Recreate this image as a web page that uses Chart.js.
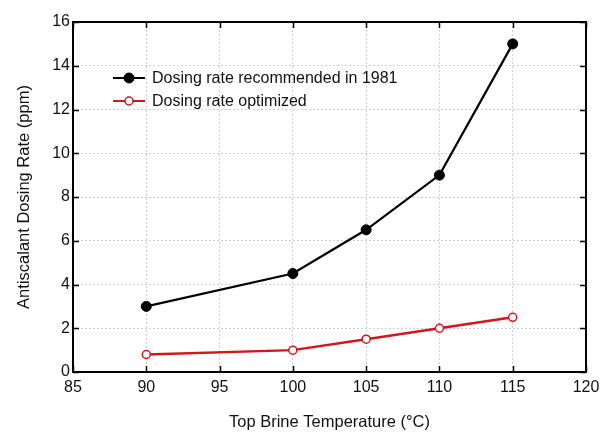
<!DOCTYPE html>
<html>
<head>
<meta charset="utf-8">
<script src="https://cdn.jsdelivr.net/npm/chart.js@4.4.1/dist/chart.umd.min.js"></script>
<style>
  html, body { margin: 0; padding: 0; background: #fff; }
  #wrap { width: 601px; height: 433px; }
</style>
</head>
<body>
<div id="wrap"><canvas id="chart" width="601" height="433"></canvas></div>
<script>
const temperatures = [90, 100, 105, 110, 115];
const rate1981 = [3, 4.5, 6.5, 9, 15];
const rateOptimized = [0.8, 1.0, 1.5, 2.0, 2.5];
const xTicks = [85, 90, 95, 100, 105, 110, 115, 120];
const yTicks = [0, 2, 4, 6, 8, 10, 12, 14, 16];
const seriesLabels = ['Dosing rate recommended in 1981', 'Dosing rate optimized'];

const FONT = '"Liberation Sans", Arial, sans-serif';

function toPoints(xs, ys) {
    return xs.map((x, i) => ({x: x, y: ys[i]}));
}

// box round the plot, inward ticks on all sides, legend inside
const framePlugin = {
    id: 'frame',
    afterDatasetsDraw(chart) {
        const ctx = chart.ctx;
        const a = chart.chartArea;
        const xs = chart.scales.x, ys = chart.scales.y;
        ctx.save();
        ctx.strokeStyle = '#000';
        ctx.lineWidth = 1.5;
        xTicks.forEach(v => {
            const px = Math.round(xs.getPixelForValue(v)) + 0.5;
            ctx.beginPath();
            ctx.moveTo(px, a.bottom); ctx.lineTo(px, a.bottom - 6);
            ctx.moveTo(px, a.top); ctx.lineTo(px, a.top + 6);
            ctx.stroke();
        });
        yTicks.forEach(v => {
            const py = Math.round(ys.getPixelForValue(v)) + 0.5;
            ctx.beginPath();
            ctx.moveTo(a.left, py); ctx.lineTo(a.left + 6, py);
            ctx.moveTo(a.right, py); ctx.lineTo(a.right - 6, py);
            ctx.stroke();
        });
        ctx.lineWidth = 2;
        ctx.strokeRect(a.left, a.top, a.right - a.left, a.bottom - a.top);

        // legend
        const ds = chart.data.datasets;
        const lx = 113, ly = 78, gap = 23;
        ds.forEach((d, i) => {
            const y = ly + i * gap;
            ctx.strokeStyle = d.borderColor;
            ctx.lineWidth = 2;
            ctx.beginPath();
            ctx.moveTo(lx, y); ctx.lineTo(lx + 32, y);
            ctx.stroke();
            ctx.beginPath();
            ctx.arc(lx + 16, y, d.pointRadius, 0, Math.PI * 2);
            ctx.fillStyle = d.pointBackgroundColor;
            ctx.fill();
            ctx.lineWidth = d.pointBorderWidth;
            ctx.strokeStyle = d.pointBorderColor;
            ctx.stroke();
            ctx.fillStyle = '#111';
            ctx.font = '16px ' + FONT;
            ctx.textBaseline = 'middle';
            ctx.fillText(d.label, lx + 39, y + 1);
        });
        ctx.restore();
    }
};

const myChart = new Chart(document.getElementById('chart'), {
    type: 'scatter',
    data: {
        datasets: [
            {
                label: seriesLabels[0],
                data: toPoints(temperatures, rate1981),
                showLine: true,
                tension: 0,
                borderColor: '#000',
                borderWidth: 2.2,
                pointRadius: 5,
                pointBackgroundColor: '#000',
                pointBorderColor: '#000',
                pointBorderWidth: 1
            },
            {
                label: seriesLabels[1],
                data: toPoints(temperatures, rateOptimized),
                showLine: true,
                tension: 0,
                borderColor: '#d4151b',
                borderWidth: 2.5,
                pointRadius: 4,
                pointBackgroundColor: '#fff',
                pointBorderColor: '#d4151b',
                pointBorderWidth: 1.5
            }
        ]
    },
    options: {
        responsive: false,
        animation: false,
        layout: {padding: {left: 0, right: 15, top: 22, bottom: 0}},
        plugins: {
            legend: {display: false},
            tooltip: {enabled: false}
        },
        scales: {
            x: {
                type: 'linear',
                min: 85,
                max: 120,
                afterBuildTicks: s => { s.ticks = xTicks.map(v => ({value: v})); },
                afterFit: s => { s.height = 61; s.paddingRight = 0; s.paddingLeft = 0; },
                grid: {
                    color: '#cfcfcf',
                    lineWidth: 1,
                    drawTicks: false
                },
                border: {display: false, dash: [2, 2]},
                ticks: {color: '#111', font: {family: FONT, size: 16}, padding: 6, maxRotation: 0},
                title: {
                    display: true,
                    text: 'Top Brine Temperature (°C)',
                    color: '#111',
                    font: {family: FONT, size: 16.5},
                    padding: {top: 4, bottom: 1}
                }
            },
            y: {
                type: 'linear',
                min: 0,
                max: 16,
                afterBuildTicks: s => { s.ticks = yTicks.map(v => ({value: v})); },
                afterFit: s => { s.width = 73; },
                grid: {
                    color: '#cfcfcf',
                    lineWidth: 1,
                    drawTicks: false
                },
                border: {display: false, dash: [2, 2]},
                ticks: {color: '#111', font: {family: FONT, size: 16}, padding: 3},
                title: {
                    display: true,
                    text: 'Antiscalant Dosing Rate (ppm)',
                    color: '#111',
                    font: {family: FONT, size: 16.5},
                    padding: {top: 15, bottom: 0}
                }
            }
        }
    },
    plugins: [framePlugin]
});
</script>
</body>
</html>
